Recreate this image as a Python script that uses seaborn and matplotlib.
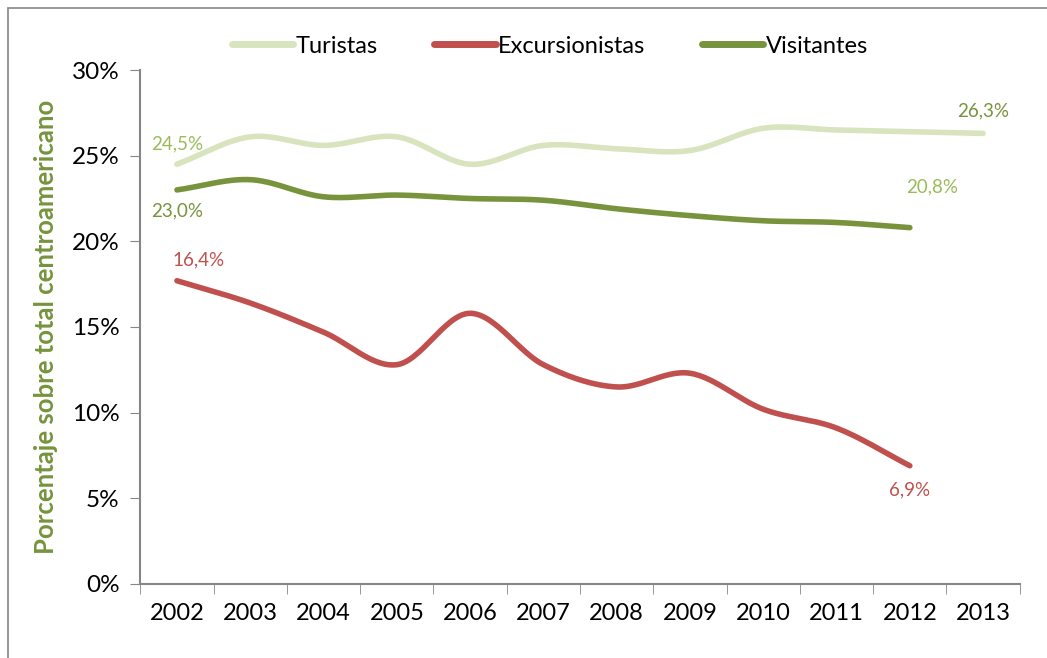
import numpy as np
import pandas as pd
import matplotlib
matplotlib.use("Agg")
import matplotlib.pyplot as plt
import seaborn as sns
from matplotlib.ticker import FuncFormatter

# Datos (% sobre total centroamericano)
anios = [2002, 2003, 2004, 2005, 2006, 2007, 2008, 2009, 2010, 2011, 2012, 2013]
turistas = [24.5, 26.1, 25.6, 26.1, 24.5, 25.6, 25.4, 25.3, 26.6, 26.5, 26.4, 26.3]
excursionistas = [17.7, 16.4, 14.7, 12.8, 15.8, 12.8, 11.5, 12.3, 10.2, 9.1, 6.9]
visitantes = [23.0, 23.6, 22.6, 22.7, 22.5, 22.4, 21.9, 21.5, 21.2, 21.1, 20.8]

colores = {"Turistas": "#d7e4bd", "Excursionistas": "#c0504d", "Visitantes": "#77933c"}


def suavizar(y, n=30):
    """Curva tipo Catmull-Rom (como las lineas suavizadas de Excel)."""
    x = np.arange(len(y), dtype=float)
    y = np.asarray(y, dtype=float)
    px = np.concatenate([[2 * x[0] - x[1]], x, [2 * x[-1] - x[-2]]])
    py = np.concatenate([[2 * y[0] - y[1]], y, [2 * y[-1] - y[-2]]])
    xs, ys = [], []
    for i in range(1, len(px) - 2):
        t = np.linspace(0, 1, n, endpoint=False)
        for p, out in ((px, xs), (py, ys)):
            p0, p1, p2, p3 = p[i - 1], p[i], p[i + 1], p[i + 2]
            out.append(0.5 * ((2 * p1) + (-p0 + p2) * t
                              + (2 * p0 - 5 * p1 + 4 * p2 - p3) * t ** 2
                              + (-p0 + 3 * p1 - 3 * p2 + p3) * t ** 3))
    xs.append([x[-1]])
    ys.append([y[-1]])
    return np.concatenate(xs), np.concatenate(ys)


sns.set_style("white")
plt.rcParams['font.family'] = ['Lato', 'DejaVu Sans']

fig = plt.figure(figsize=(10.47, 6.58), dpi=100)
ax = fig.add_axes([0.134, 0.1125, 0.840, 0.7811])

frames = []
for nombre, serie in (("Turistas", turistas), ("Excursionistas", excursionistas), ("Visitantes", visitantes)):
    xs, ys = suavizar(serie)
    frames.append(pd.DataFrame({"x": xs, "y": ys, "serie": nombre}))
df = pd.concat(frames)

sns.lineplot(data=df, x="x", y="y", hue="serie", palette=colores, linewidth=4,
             sort=False, estimator=None, ax=ax, legend=False)
for l in ax.lines:
    l.set_solid_capstyle("round")

ax.set_xlim(-0.5, len(anios) - 0.5)
ax.set_ylim(0, 30)
ax.set_yticks(range(0, 31, 5))
ax.yaxis.set_major_formatter(FuncFormatter(lambda v, p: f"{v:.0f}%"))
ax.set_xticks(range(len(anios)))
ax.set_xticklabels([str(a) for a in anios])
ax.set_xticks(np.arange(-0.5, len(anios)), minor=True)
ax.tick_params(axis="x", which="major", length=0, pad=14, labelsize=17, labelcolor="black")
ax.tick_params(axis="x", which="minor", length=7, color="#868686", direction="out", bottom=True)
ax.tick_params(axis="y", length=7, color="#868686", direction="out", left=True, labelsize=17.5,
               pad=8, labelcolor="black")

for s in ("top", "right"):
    ax.spines[s].set_visible(False)
for s in ("left", "bottom"):
    ax.spines[s].set_color("#868686")
    ax.spines[s].set_linewidth(1.5)

ax.set_ylabel("Porcentaje sobre total centroamericano", color="#77933c",
              fontsize=18.5, fontweight="bold", labelpad=10)
ax.set_xlabel("")

# Etiquetas de datos
ax.text(0, 25.7, "24,5%", color="#9bbb59", fontsize=13.5, ha="center", va="center")
ax.text(0, 21.8, "23,0%", color="#77933c", fontsize=13.5, ha="center", va="center")
ax.text(0.3, 18.9, "16,4%", color="#c0504d", fontsize=13.5, ha="center", va="center")
ax.text(11.0, 27.6, "26,3%", color="#77933c", fontsize=13.5, ha="center", va="center")
ax.text(10.3, 23.2, "20,8%", color="#9bbb59", fontsize=13.5, ha="center", va="center")
ax.text(10.0, 5.5, "6,9%", color="#c0504d", fontsize=13.5, ha="center", va="center")

handles = [plt.Line2D([], [], color=colores[k], lw=5, solid_capstyle="round") for k in colores]
leg = fig.legend(handles, list(colores), loc="center", bbox_to_anchor=(0.525, 0.93), ncol=3,
                 frameon=False, fontsize=17, handlelength=2.6, handletextpad=0.1, columnspacing=2.4)
for t in leg.get_texts():
    t.set_color("black")

# Borde exterior del grafico
fig.patches.append(plt.Rectangle((0.008, -0.01), 1.1, 0.998, transform=fig.transFigure,
                                 fill=False, edgecolor="#868686", lw=1.2))

fig.savefig("out.png", dpi=100)
